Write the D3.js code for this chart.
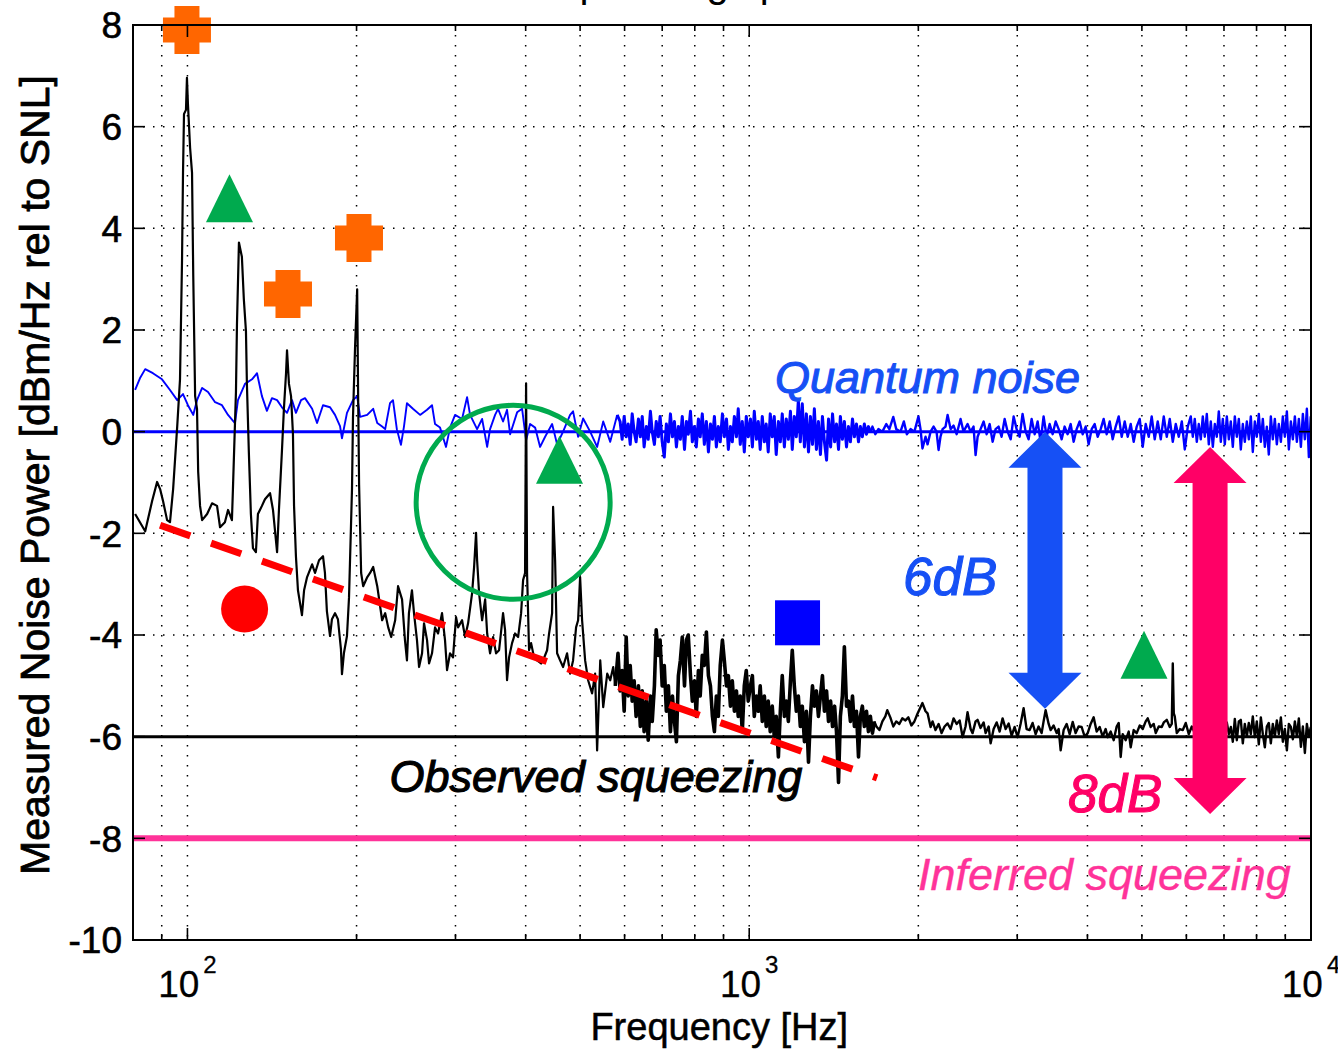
<!DOCTYPE html>
<html>
<head>
<meta charset="utf-8">
<script src="https://cdn.jsdelivr.net/npm/d3@7"></script>
<style>
  body { margin: 0; background: #fff; }
  svg { display: block; font-family: "Liberation Sans", Arial, Helvetica, sans-serif; }
</style>
</head>
<body>
<svg id="chart"></svg>
<script>

// ---- data: [frequency in Hz, level in dB rel. to SNL] ----

const quantumLow = [
  [80.7,0.82],[82.3,1.05],[84.1,1.23],[86.8,1.15],[90.1,1.03],[93.1,0.82],[95.9,0.62],[98.2,0.74],
  [100.2,0.52],[102.4,0.33],[104.0,0.62],[106.2,0.86],[108.8,0.78],[112.0,0.58],[115.2,0.52],[118.1,0.33],
  [121.5,0.17],[123.0,0.62],[126.6,0.94],[130.3,1.03],[133.0,1.15],[135.7,0.70],[138.5,0.41],[141.4,0.66],
  [144.4,0.62],[147.3,0.48],[150.4,0.37],[153.5,0.62],[156.0,0.37],[159.3,0.62],[161.9,0.66],[166.7,0.45],
  [170.1,0.17],[174.3,0.52],[179.4,0.48],[183.1,0.33],[186.9,0.11],[188.4,-0.13],[192.3,0.37],[197.1,0.62],
  [200.5,0.70],[202.9,0.29],[208.9,0.33],[214.1,0.45],[217.7,0.17],[222.1,0.10],[224.9,0.05],[229.4,0.56],
  [232.2,0.62],[235.9,0.05],[239.9,-0.26],[242.9,0.10],[245.9,0.56],[252.0,0.45],[259.5,0.33],[267.0,0.43],
  [272.5,0.52],[275.9,0.15],[281.6,0.08],[288.6,-0.30],[293.4,0.08],[299.5,0.33],[308.2,0.25],[314.6,0.68],
  [318.5,0.33],[327.8,0.05],[334.6,0.25],[341.6,-0.30],[345.7,0.05],[352.9,0.33],[357.2,0.45],[364.6,0.20],
  [370.6,0.43],[375.3,-0.05],[386.2,0.38],[394.2,0.45],[400.7,-0.17],[407.3,0.15],[415.8,0.08],[424.4,-0.30],
  [433.2,-0.10],[445.8,0.15],[455.0,-0.25],[466.3,0.00],[479.9,0.33],[485.8,0.40],[495.9,-0.10],[506.2,0.26],
  [521,0.00],[536.1,-0.30],[549.7,0.20],[565.7,-0.20],[582,0.33]
];

const quantumMid = [
  [589,0.2],[594,-0.15],[599,0.3],[604,-0.1],[609,0.15],[614,-0.25],[619,0.35],[624,0.0],[629,-0.2],[635,0.25],
  [640,-0.1],[645,0.3],[650,-0.3],[656,0.1],[661,-0.15],[667,0.4],[672,0.0],[678,-0.25],[683,0.2],[689,-0.1],
  [694,0.3],[700,-0.2],[706,-0.5],[712,0.15],[718,-0.2],[724,0.35],[730,-0.1],[736,0.2],[742,-0.3],[748,0.1],
  [754,-0.15],[760,0.3],[767,-0.35],[773,0.2],[779,-0.05],[786,0.4],[792,-0.2],[799,0.1],[805,-0.3],[812,0.25],
  [818,-0.1],[825,0.35],[832,-0.25],[839,0.2],[846,-0.4],[853,0.15],[860,-0.15],[867,0.3],[874,-0.3],[881,0.1],
  [888,-0.2],[896,0.35],[903,-0.1],[911,0.25],[918,-0.35],[926,0.1],[933,-0.2],[941,0.3],[949,-0.1],[956,0.45],
  [964,-0.25],[972,0.2],[980,-0.4],[988,0.3],[996,-0.1],[1005,0.25],[1013,-0.3],[1021,0.4],[1030,-0.15],[1038,0.2],
  [1046,-0.35],[1055,0.3],[1064,-0.2],[1072,0.15],[1081,-0.4],[1090,0.35],[1099,-0.1],[1108,0.3],[1117,-0.45],[1127,0.2],
  [1136,-0.2],[1145,0.35],[1155,-0.3],[1164,0.25],[1174,-0.15],[1184,0.4],[1193,-0.35],[1203,0.3],[1213,-0.1],[1223,0.62],
  [1233,-0.2],[1243,0.55],[1254,-0.3],[1264,0.35],[1275,-0.4],[1285,0.3],[1296,-0.25],[1306,0.45],[1317,-0.35],[1328,0.2],
  [1339,-0.45],[1350,0.3],[1361,-0.2],[1373,-0.56],[1384,0.25],[1396,-0.3],[1407,0.35],[1419,-0.2],[1430,0.15],[1442,-0.35],
  [1453,0.3],[1465,-0.15],[1477,0.2],[1490,-0.3],[1502,0.1],[1514,-0.2],[1527,0.25],[1539,-0.1],[1552,0.15],[1565,-0.2],
  [1577,0.1],[1590,-0.1],[1603,0.15],[1617,-0.05],[1630,0.1],[1643,0.0]
];

const quantumHigh = [
  [1657,0.1],[1677,-0.05],[1698,0.05],[1726,0.0],[1754,0.15],[1776,0.05],[1805,0.29],[1827,0.05],[1859,0.0],[1885,0.2],
  [1908,-0.05],[1937,0.05],[1968,0.0],[2001,0.3],[2018,0.05],[2034,-0.33],[2060,-0.1],[2077,-0.25],[2103,0.0],[2129,0.1],
  [2155,0.0],[2173,-0.36],[2190,-0.1],[2209,0.05],[2236,0.1],[2255,0.33],[2283,0.05],[2311,0.12],[2340,-0.05],[2378,0.25],
  [2407,0.0],[2447,0.15],[2478,0.0],[2508,0.1],[2529,-0.46],[2550,-0.1],[2581,0.05],[2614,0.2],[2646,-0.05],[2679,0.15],
  [2712,-0.2],[2745,0.05],[2779,0.1],[2813,-0.1],[2849,0.25],[2884,0.0],[2920,-0.15],[2956,0.3],[2992,0.05],[3029,-0.1],
  [3066,0.35],[3105,0.0],[3143,-0.15],[3182,0.25],[3222,-0.05],[3261,0.2],[3301,-0.2],[3342,0.3],[3384,-0.1],[3426,0.15],
  [3468,-0.05],[3511,0.2],[3555,0.05],[3599,-0.15],[3643,0.1],[3688,-0.05],[3734,0.15],[3780,-0.2],[3827,0.05],[3874,0.2],
  [3922,-0.05],[3971,0.1],[4020,-0.25],[4070,0.05],[4120,0.15],[4171,-0.1],[4223,0.05],[4275,0.25],[4328,-0.05],[4382,0.2],
  [4436,-0.15],[4491,0.1],[4547,0.3],[4603,-0.1],[4660,0.2],[4718,-0.1],[4776,0.15],[4835,-0.2],[4895,0.1],[4956,0.25],
  [5017,-0.3],[5079,0.15],[5142,-0.1],[5205,0.3],[5270,-0.15],[5335,0.2],[5402,-0.15],[5469,0.3],[5537,-0.1],[5605,0.25],
  [5675,-0.2],[5745,0.15],[5816,-0.1],[5889,0.2],[5961,-0.35],[6035,0.1],[6109,0.3],[6160,-0.1],[6210,0.25],[6262,-0.2],
  [6313,0.15],[6365,-0.15],[6418,0.3],[6470,-0.1],[6524,0.35],[6578,-0.25],[6632,0.2],[6687,-0.3],[6742,0.15],[6797,-0.1],
  [6853,0.4],[6910,-0.2],[6967,0.25],[7024,-0.25],[7082,0.3],[7141,-0.15],[7199,0.2],[7258,-0.3],[7318,0.3],[7378,-0.1],
  [7439,0.25],[7500,-0.35],[7562,0.15],[7624,-0.2],[7687,0.2],[7750,-0.15],[7814,0.3],[7878,-0.4],[7943,0.2],[8008,-0.1],
  [8074,0.35],[8142,-0.2],[8208,0.25],[8276,-0.3],[8344,0.1],[8412,-0.45],[8482,0.3],[8551,-0.15],[8622,0.25],[8693,-0.25],
  [8764,0.15],[8838,-0.2],[8910,0.3],[8984,-0.1],[9058,0.4],[9132,-0.35],[9208,0.2],[9283,-0.15],[9360,0.3],[9437,-0.2],
  [9514,0.25],[9594,-0.3],[9672,0.35],[9752,-0.15],[9832,0.45],[9913,-0.5],[9990,0.3]
];

const squeezedLow = [
  [80.7,-1.62],[84.1,-1.96],[86.5,-1.37],[88.3,-0.99],[89.4,-1.13],[90.5,-1.37],[92.0,-1.74],[93.1,-1.78],
  [94.3,-1.13],[95.9,0.11],[97.0,1.03],[97.8,3.36],[98.2,5.09],[98.6,6.25],[99.4,6.33],[99.8,6.96],
  [100.2,6.45],[101.1,5.58],[101.9,5.09],[102.4,3.10],[103.2,0.70],[104.0,0.45],[104.5,-0.79],[105.3,-1.46],
  [106.2,-1.74],[108.4,-1.62],[110.6,-1.41],[112.9,-1.46],[114.3,-1.88],[116.6,-1.78],[118.1,-1.54],[120.0,-1.74],
  [120.5,-1.13],[122.0,0.78],[122.5,2.10],[123.5,3.72],[125.0,3.44],[126.0,2.61],[127.1,1.98],[127.6,0.94],
  [128.6,-0.38],[129.7,-1.62],[130.8,-2.29],[132.4,-2.37],[133.5,-1.62],[135.7,-1.46],[137.4,-1.33],[140.3,-1.21],
  [142.0,-1.54],[144.4,-2.37],[145.5,-1.54],[147.3,-0.38],[148.5,0.45],[149.8,1.15],[150.4,1.60],[151.6,0.94],
  [152.9,0.70],[154.1,-0.04],[154.8,-1.46],[156.0,-2.45],[157.3,-3.12],[159.9,-3.61],[161.3,-3.12],[163.3,-2.86],
  [166.7,-2.61],[168.7,-2.78],[171.5,-2.53],[174.3,-2.45],[175.7,-2.78],[177.1,-3.53],[179.4,-4.02],[180.8,-3.69],
  [183.1,-3.57],[185.3,-3.69],[187.6,-4.28],[188.4,-4.77],[189.9,-4.36],[192.3,-4.02],[193.9,-3.27],[196.3,-1.13],
  [197.1,0.29],[198.8,1.68],[200.5,2.80],[201.3,0.70],[202.1,-1.05],[203.8,-2.78],[205.5,-3.04],[209.0,-2.86],
  [211.4,-2.78],[214.1,-2.66],[217.7,-3.04],[222.1,-3.71],[224.9,-3.57],[227.7,-3.85],[230.5,-4.04],[234.3,-3.71],
  [237.1,-3.04],[241.0,-3.30],[243.9,-4.10],[245.9,-4.50],[247.9,-3.57],[251.0,-3.12],[253.1,-3.57],[256.2,-4.10],
  [258.4,-4.63],[261.6,-4.36],[263.7,-3.77],[267.0,-4.10],[269.2,-4.56],[272.5,-4.36],[275.9,-3.85],[279.3,-3.97],
  [283.9,-3.57],[287.4,-4.10],[289.8,-4.69],[293.4,-4.36],[297.0,-4.44],[300.7,-3.65],[303.2,-3.85],[308.2,-3.71],
  [312.1,-4.04],[315.9,-3.77],[321.1,-3.18],[323.8,-2.66],[326.4,-1.99],[327.8,-2.53],[330.5,-3.18],[334.6,-3.71],
  [338.8,-3.30],[341.6,-3.97],[345.7,-4.36],[350.0,-4.04],[354.3,-4.36],[358.7,-4.30],[364.6,-3.57],[367.6,-3.90],
  [370.6,-4.89],[373.7,-4.44],[378.3,-4.16],[383.0,-3.97],[387.8,-4.04],[392.6,-3.57],[395.8,-2.92],[399.0,-2.78],
  [400.7,0.95],[402.3,-2.78],[405.6,-4.30],[409.0,-4.16],[414.0,-4.44],[419.2,-4.50],[426.1,-4.56],[429.6,-4.50],
  [436.7,-4.30],[440.3,-3.97],[445.8,-3.57],[447.6,-1.48],[451.3,-2.53],[455.0,-4.36],[460.6,-4.50],[466.3,-4.63],
  [474.0,-4.36],[479.9,-4.76],[485.8,-4.50],[491.8,-3.85],[495.9,-3.71],[500.0,-2.86],[504.1,-3.71],[510.4,-4.50],
  [516.7,-4.89],[525.2,-5.15],[531.7,-4.76],[536.1,-6.27],[543,-4.50],[549.7,-5.42],[558.8,-4.76],[565.7,-4.89],
  [572.7,-4.63],[577.5,-5.00]
];

const squeezedMid = [
  [584,-4.36],[589,-5.1],[594,-4.7],[599,-5.5],[604,-4.04],[609,-5.2],[614,-4.6],[619,-5.3],[624,-4.9],[629,-5.6],
  [635,-5.0],[640,-5.8],[645,-5.1],[650,-5.9],[656,-5.3],[661,-6.07],[667,-5.2],[672,-5.7],[678,-5.0],[683,-3.9],
  [689,-4.4],[694,-4.1],[700,-5.0],[706,-4.6],[712,-5.5],[718,-5.0],[724,-5.9],[730,-5.2],[736,-5.7],[742,-6.1],
  [748,-4.8],[754,-4.5],[760,-4.04],[767,-5.0],[773,-4.1],[779,-4.0],[786,-4.8],[792,-5.3],[799,-4.9],[805,-5.6],
  [812,-4.7],[818,-5.2],[825,-4.4],[832,-4.6],[839,-3.94],[846,-4.8],[853,-5.0],[860,-5.6],[867,-5.9],[874,-5.2],
  [881,-5.6],[888,-4.6],[896,-4.1],[903,-4.5],[911,-5.0],[918,-4.8],[926,-5.4],[933,-4.9],[941,-5.5],[949,-5.1],
  [956,-5.6],[964,-5.2],[972,-5.9],[980,-5.0],[988,-4.7],[996,-5.3],[1005,-5.0],[1013,-4.8],[1021,-5.6],[1030,-5.2],
  [1038,-5.5],[1046,-5.0],[1055,-5.7],[1064,-5.2],[1072,-5.8],[1081,-5.3],[1090,-5.9],[1099,-5.4],[1108,-6.0],[1117,-5.6],
  [1127,-6.4],[1136,-5.5],[1145,-4.8],[1155,-5.6],[1164,-5.3],[1174,-5.7],[1184,-4.9],[1193,-4.3],[1203,-5.0],[1213,-5.5],
  [1223,-5.2],[1233,-5.8],[1243,-5.4],[1254,-6.1],[1264,-5.5],[1275,-6.5],[1285,-5.6],[1296,-5.0],[1306,-5.4],[1317,-5.1],
  [1328,-5.6],[1339,-5.2],[1350,-4.8],[1361,-5.5],[1373,-5.1],[1384,-5.7],[1396,-5.3],[1407,-5.8],[1419,-5.4],[1430,-5.9],
  [1442,-6.9],[1453,-5.6],[1465,-5.2],[1477,-4.23],[1490,-5.4],[1502,-5.3],[1514,-5.7],[1527,-5.2],[1539,-5.8],[1552,-5.5],
  [1565,-6.4],[1577,-5.6],[1590,-5.4],[1603,-5.8],[1617,-5.5],[1630,-5.9],[1643,-5.6],[1657,-5.93],[1670,-5.7]
];

const squeezedHigh = [
  [1684,-5.8],[1705,-5.87],[1726,-5.7],[1747,-5.6],[1761,-5.48],[1783,-5.62],[1805,-5.8],[1827,-5.7],[1850,-5.75],[1873,-5.64],
  [1897,-5.68],[1920,-5.62],[1944,-5.78],[1968,-5.7],[1993,-5.55],[2018,-5.42],[2034,-5.34],[2060,-5.5],[2077,-5.54],[2103,-5.81],
  [2120,-5.7],[2146,-5.87],[2173,-5.75],[2200,-5.93],[2227,-5.8],[2255,-5.74],[2283,-5.85],[2311,-5.64],[2340,-5.75],[2369,-5.68],
  [2398,-6.01],[2427,-5.8],[2447,-5.52],[2478,-5.85],[2498,-5.93],[2529,-5.7],[2550,-5.67],[2581,-5.83],[2614,-5.72],[2635,-5.93],
  [2668,-5.8],[2690,-6.13],[2723,-5.85],[2757,-5.72],[2791,-5.9],[2825,-5.64],[2861,-5.85],[2896,-5.74],[2932,-5.98],[2968,-5.81],
  [3004,-6.01],[3041,-5.75],[3079,-5.44],[3117,-5.85],[3156,-5.87],[3195,-5.73],[3235,-5.95],[3274,-5.8],[3315,-5.93],[3342,-5.7],
  [3370,-5.48],[3412,-5.75],[3440,-5.87],[3482,-5.78],[3526,-5.93],[3555,-5.85],[3584,-6.27],[3628,-5.87],[3673,-5.75],[3719,-5.95],
  [3765,-5.71],[3811,-5.93],[3858,-5.8],[3906,-5.81],[3955,-6.0],[4004,-5.93],[4053,-5.75],[4103,-5.62],[4154,-5.9],[4206,-5.81],
  [4258,-6.0],[4310,-5.85],[4346,-6.01],[4400,-5.9],[4454,-6.07],[4509,-5.8],[4547,-5.73],[4584,-6.4],[4622,-5.95],[4679,-6.07],
  [4737,-5.9],[4776,-6.21],[4835,-5.87],[4895,-5.93],[4956,-5.78],[5017,-5.85],[5079,-5.7],[5121,-5.64],[5184,-5.81],[5248,-5.75],
  [5292,-5.93],[5358,-5.8],[5424,-5.81],[5469,-5.72],[5537,-5.67],[5605,-5.81],[5652,-5.75],[5675,-4.56],[5698,-5.54],[5721,-5.6],
  [5769,-5.93],[5840,-5.85],[5913,-5.87],[5985,-5.73],[6060,-5.95],[6135,-5.8],[6210,-5.93],[6287,-5.75],[6365,-5.67],[6444,-6.03],
  [6524,-5.85],[6605,-5.81],[6687,-6.0],[6769,-5.75],[6853,-5.97],[6938,-5.8],[7024,-6.1],[7082,-5.72],[7141,-5.95],[7199,-5.81],
  [7258,-6.1],[7318,-5.65],[7378,-6.07],[7439,-5.7],[7500,-5.67],[7562,-6.13],[7624,-5.75],[7687,-6.0],[7750,-5.73],[7814,-5.95],
  [7878,-5.6],[7943,-6.01],[8008,-5.7],[8074,-6.15],[8142,-5.62],[8208,-5.95],[8276,-6.21],[8344,-5.8],[8412,-5.73],[8482,-6.13],
  [8551,-5.75],[8622,-6.0],[8693,-5.68],[8764,-5.95],[8838,-5.62],[8910,-6.1],[8984,-5.85],[9058,-6.27],[9132,-5.75],[9208,-5.81],
  [9283,-6.05],[9360,-5.7],[9437,-6.0],[9514,-5.64],[9594,-6.2],[9672,-5.8],[9752,-6.32],[9832,-5.75],[9913,-6.0],[9990,-5.81]
];

// reference levels: shot noise, observed and inferred squeezing
const levelLines = [
  {name: 'snl', db: 0},
  {name: 'observed', db: -6},
  {name: 'inferred', db: -8}
];

// annotation marks, in [Hz, dB]
const crossMarkers = [[99.8, 7.9], [151, 2.71], [202, 3.81]];
const triangleMarkers = [[118.8, 4.59], [459.5, -0.55], [5044, -4.39]];
const circleMarkers = [[126.4, -3.49]];
const squareMarkers = [[1219, -3.76]];
const ringCenter = [380, -1.39];
const trendLine = [[89.4, -1.84], [1689, -6.81]];
const gapArrows = [
  {name: 'observed', freq: 3361, top: 0.0, bottom: -5.45},
  {name: 'inferred', freq: 6612, top: -0.3, bottom: -7.52}
];
const labels = [
  {name: 'quantum', text: 'Quantum noise', freq: 1111, db: 0.76},
  {name: 'six', text: '6dB', freq: 1878, db: -3.21},
  {name: 'eight', text: '8dB', freq: 3694, db: -7.48},
  {name: 'observed', text: 'Observed squeezing', freq: 229, db: -7.09},
  {name: 'inferred', text: 'Inferred squeezing', freq: 1997, db: -9.02}
];

const xMajorTicks = [100, 1000, 10000];
const xMajorExponents = ['2', '3', '4'];


class SpectrumChart {

    /**
     * Class constructor with initial configuration
     */
    constructor(_config) {
        this.config = {
            parentElement: _config.parentElement,
            containerWidth: 1338,
            containerHeight: 1051,
            margin: {top: 25, right: 27, bottom: 111, left: 133}
        };
        this.initVis();
    }

    initVis() {
        let vis = this;

        vis.width = vis.config.containerWidth - vis.config.margin.left - vis.config.margin.right;
        vis.height = vis.config.containerHeight - vis.config.margin.top - vis.config.margin.bottom;

        vis.svg = d3.select(vis.config.parentElement)
            .attr('width', vis.config.containerWidth)
            .attr('height', vis.config.containerHeight);

        vis.chart = vis.svg.append('g')
            .attr('transform', `translate(${vis.config.margin.left},${vis.config.margin.top})`);

        vis.xScale = d3.scaleLog()
            .domain([80, 10000])
            .range([0, vis.width]);

        vis.yScale = d3.scaleLinear()
            .domain([-10, 8])
            .range([vis.height, 0]);

        vis.colors = {
            quantum: '#0000ff',
            squeezed: '#000000',
            inferred: '#ff3399',
            arrowBlue: '#1650f5',
            arrowPink: '#ff0066',
            orange: '#ff6600',
            green: '#00aa4e',
            red: '#ff0000'
        };

        vis.renderVis();
    }

    renderVis() {
        let vis = this;
        const x = vis.xScale, y = vis.yScale;

        // cut-off title above the axes (the reference only shows its descenders)
        vis.svg.append('text')
            .attr('x', vis.config.margin.left + vis.width / 2)
            .attr('y', -3)
            .attr('text-anchor', 'middle')
            .attr('font-size', 40)
            .text('Squeezing spectrum');

        // dotted grid (log minor grid on x)
        const xGrid = x.ticks().filter(d => d > 80 && d < 10000);
        const yGrid = y.ticks(10).filter(d => d > -10 && d < 8);

        vis.chart.append('g').selectAll('line')
            .data(xGrid)
            .join('line')
            .attr('x1', d => x(d)).attr('x2', d => x(d))
            .attr('y1', 0).attr('y2', vis.height)
            .attr('stroke', '#000')
            .attr('stroke-width', 1.5)
            .attr('stroke-dasharray', '1.5,8.5');

        vis.chart.append('g').selectAll('line')
            .data(yGrid)
            .join('line')
            .attr('x1', 0).attr('x2', vis.width)
            .attr('y1', d => y(d)).attr('y2', d => y(d))
            .attr('stroke', '#000')
            .attr('stroke-width', 1.5)
            .attr('stroke-dasharray', '1.5,8.5');

        // clip for the traces
        vis.svg.append('defs').append('clipPath')
            .attr('id', 'plot-clip')
            .append('rect')
            .attr('width', vis.width)
            .attr('height', vis.height);

        const plot = vis.chart.append('g').attr('clip-path', 'url(#plot-clip)');

        // level lines
        const levelStyle = {
            snl: {color: vis.colors.quantum, width: 3},
            observed: {color: '#000', width: 3},
            inferred: {color: vis.colors.inferred, width: 6}
        };
        plot.selectAll('.level')
            .data(levelLines)
            .join('line')
            .attr('class', 'level')
            .attr('x1', 0).attr('x2', vis.width)
            .attr('y1', d => y(d.db)).attr('y2', d => y(d.db))
            .attr('stroke', d => levelStyle[d.name].color)
            .attr('stroke-width', d => levelStyle[d.name].width);

        // traces; the dense FFT stretches read as heavier bands in the original,
        // so those segments get a wider stroke
        const line = d3.line()
            .x(d => x(d[0]))
            .y(d => y(d[1]));

        const traceSegments = [
            {data: quantumLow, color: vis.colors.quantum, width: 1.9},
            {data: [quantumLow[quantumLow.length - 1]].concat(quantumMid), color: vis.colors.quantum, width: 3},
            {data: [quantumMid[quantumMid.length - 1]].concat(quantumHigh), color: vis.colors.quantum, width: 2.4},
            {data: squeezedLow, color: vis.colors.squeezed, width: 2.2},
            {data: [squeezedLow[squeezedLow.length - 1]].concat(squeezedMid), color: vis.colors.squeezed, width: 3.6},
            {data: [squeezedMid[squeezedMid.length - 1]].concat(squeezedHigh), color: vis.colors.squeezed, width: 2.4}
        ];

        plot.selectAll('.trace')
            .data(traceSegments)
            .join('path')
            .attr('class', 'trace')
            .attr('fill', 'none')
            .attr('stroke', d => d.color)
            .attr('stroke-width', d => d.width)
            .attr('stroke-linejoin', 'round')
            .attr('d', d => line(d.data));

        // annotation marks
        const crossPath = (s, a) => {
            const h = s / 2, t = a / 2;
            return `M${-t},${-h}H${t}V${-t}H${h}V${t}H${t}V${h}H${-t}V${t}H${-h}V${-t}H${-t}Z`;
        };
        vis.chart.selectAll('.cross')
            .data(crossMarkers)
            .join('path')
            .attr('class', 'cross')
            .attr('transform', d => `translate(${x(d[0])},${y(d[1])})`)
            .attr('d', crossPath(48, 25))
            .attr('fill', vis.colors.orange);

        vis.chart.selectAll('.tri')
            .data(triangleMarkers)
            .join('path')
            .attr('class', 'tri')
            .attr('transform', d => `translate(${x(d[0])},${y(d[1])})`)
            .attr('d', 'M0,-24L23.5,24L-23.5,24Z')
            .attr('fill', vis.colors.green);

        vis.chart.selectAll('.dot')
            .data(circleMarkers)
            .join('circle')
            .attr('class', 'dot')
            .attr('cx', d => x(d[0]))
            .attr('cy', d => y(d[1]))
            .attr('r', 23.5)
            .attr('fill', vis.colors.red);

        vis.chart.selectAll('.sq')
            .data(squareMarkers)
            .join('rect')
            .attr('class', 'sq')
            .attr('x', d => x(d[0]) - 22.5)
            .attr('y', d => y(d[1]) - 22.5)
            .attr('width', 45)
            .attr('height', 45)
            .attr('fill', '#0000ff');

        vis.chart.append('circle')
            .attr('cx', x(ringCenter[0]))
            .attr('cy', y(ringCenter[1]))
            .attr('r', 97)
            .attr('fill', 'none')
            .attr('stroke', vis.colors.green)
            .attr('stroke-width', 5);

        vis.chart.append('path')
            .datum(trendLine)
            .attr('d', line)
            .attr('stroke', vis.colors.red)
            .attr('stroke-width', 7)
            .attr('stroke-dasharray', '32,22')
            .attr('fill', 'none');

        // double headed arrows
        const arrowPath = (cx, y0, y1) => {
            const hw = 36.5, sw = 17.5, hh = 36;
            return `M${cx},${y0}L${cx + hw},${y0 + hh}L${cx + sw},${y0 + hh}L${cx + sw},${y1 - hh}` +
                `L${cx + hw},${y1 - hh}L${cx},${y1}L${cx - hw},${y1 - hh}L${cx - sw},${y1 - hh}` +
                `L${cx - sw},${y0 + hh}L${cx - hw},${y0 + hh}Z`;
        };
        vis.chart.selectAll('.gap-arrow')
            .data(gapArrows)
            .join('path')
            .attr('class', 'gap-arrow')
            .attr('d', d => arrowPath(x(d.freq), y(d.top), y(d.bottom)))
            .attr('fill', d => d.name === 'observed' ? vis.colors.arrowBlue : vis.colors.arrowPink);

        // annotation text (slightly stroked to get the heavier look of the original)
        const labelStyle = {
            quantum: {color: vis.colors.arrowBlue, size: 45},
            six: {color: vis.colors.arrowBlue, size: 53},
            eight: {color: vis.colors.arrowPink, size: 53},
            observed: {color: '#000', size: 45},
            inferred: {color: vis.colors.inferred, size: 45}
        };
        vis.chart.selectAll('.note')
            .data(labels)
            .join('text')
            .attr('class', 'note')
            .attr('x', d => x(d.freq))
            .attr('y', d => y(d.db))
            .attr('font-style', 'italic')
            .attr('font-size', d => labelStyle[d.name].size)
            .attr('fill', d => labelStyle[d.name].color)
            .attr('stroke', d => labelStyle[d.name].color)
            .attr('stroke-width', d => d.name === 'inferred' ? 0.4 : 1.1)
            .text(d => d.text);

        // axes frame and inward ticks
        vis.chart.append('rect')
            .attr('width', vis.width)
            .attr('height', vis.height)
            .attr('fill', 'none')
            .attr('stroke', '#000')
            .attr('stroke-width', 2);

        const ticks = vis.chart.append('g').attr('stroke', '#000').attr('stroke-width', 1.6);
        const allX = x.ticks().filter(d => d > 80);
        ticks.selectAll('.xt-b')
            .data(allX)
            .join('line')
            .attr('x1', d => x(d)).attr('x2', d => x(d))
            .attr('y1', vis.height)
            .attr('y2', d => vis.height - (xMajorTicks.includes(d) ? 12 : 6));
        ticks.selectAll('.xt-t')
            .data(allX)
            .join('line')
            .attr('x1', d => x(d)).attr('x2', d => x(d))
            .attr('y1', 0)
            .attr('y2', d => (xMajorTicks.includes(d) ? 12 : 6));

        const yTicks = y.ticks(10);
        ticks.selectAll('.yt-l')
            .data(yTicks)
            .join('line')
            .attr('x1', 0).attr('x2', 12)
            .attr('y1', d => y(d)).attr('y2', d => y(d));
        ticks.selectAll('.yt-r')
            .data(yTicks)
            .join('line')
            .attr('x1', vis.width - 12).attr('x2', vis.width)
            .attr('y1', d => y(d)).attr('y2', d => y(d));

        // tick labels
        vis.chart.selectAll('.ylab')
            .data(yTicks)
            .join('text')
            .attr('class', 'ylab')
            .attr('x', -11)
            .attr('y', d => y(d))
            .attr('dy', '0.36em')
            .attr('text-anchor', 'end')
            .attr('font-size', 37)
            .attr('stroke', '#000')
            .attr('stroke-width', 0.6)
            .text(d => d);

        const xlab = vis.chart.selectAll('.xlab')
            .data(xMajorTicks)
            .join('text')
            .attr('class', 'xlab')
            .attr('x', d => x(d))
            .attr('y', vis.height + 57)
            .attr('text-anchor', 'middle')
            .attr('font-size', 37)
            .attr('stroke', '#000')
            .attr('stroke-width', 0.3);
        xlab.append('tspan').text('10');
        xlab.append('tspan')
            .attr('font-size', 24)
            .attr('dx', 4)
            .attr('dy', -24)
            .text((d, i) => xMajorExponents[i]);

        // axis titles
        vis.chart.append('text')
            .attr('x', x(1000) - 30)
            .attr('y', vis.height + 100)
            .attr('text-anchor', 'middle')
            .attr('font-size', 38)
            .attr('stroke', '#000')
            .attr('stroke-width', 0.5)
            .text('Frequency [Hz]');

        vis.svg.append('text')
            .attr('transform', 'rotate(-90)')
            .attr('x', -475)
            .attr('y', 49)
            .attr('text-anchor', 'middle')
            .attr('font-size', 41)
            .attr('stroke', '#000')
            .attr('stroke-width', 0.8)
            .text('Measured Noise Power [dBm/Hz rel to SNL]');
    }
}

new SpectrumChart({parentElement: '#chart'});
</script>
</body>
</html>
